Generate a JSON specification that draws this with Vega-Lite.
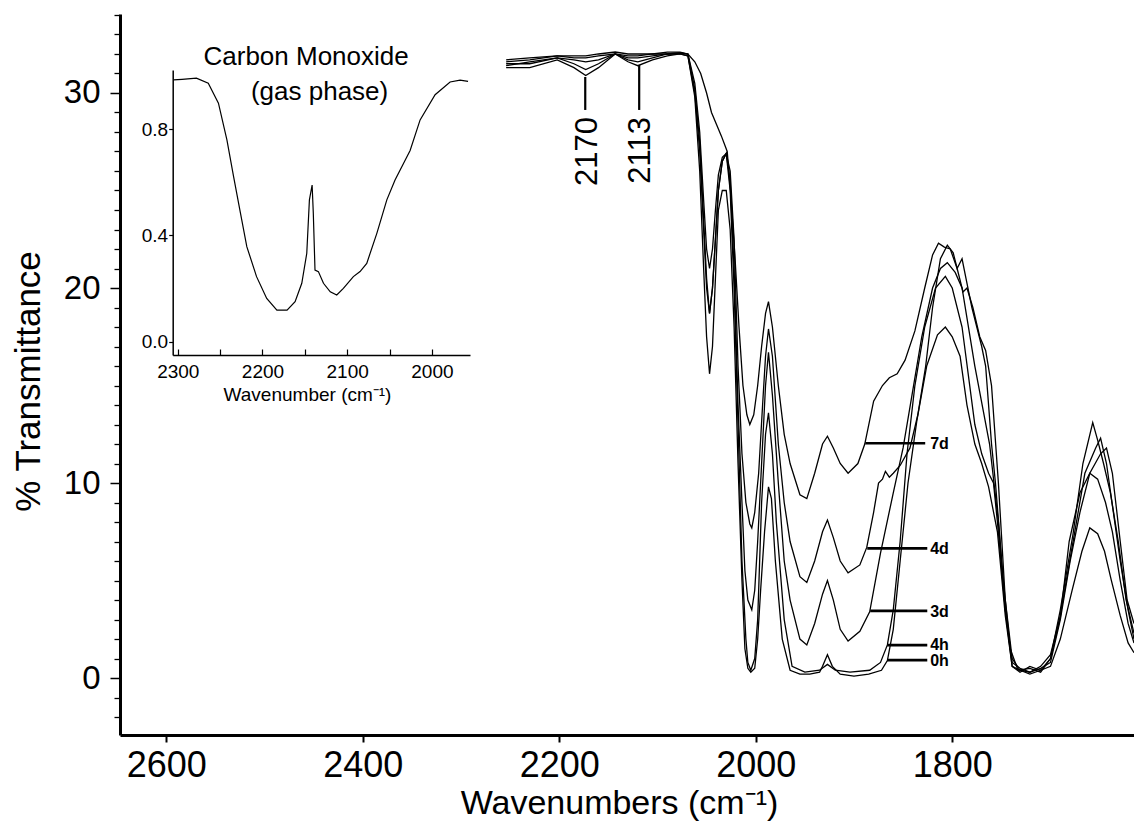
{
  "$schema": "https://vega.github.io/schema/vega-lite/v6.json",
  "width": 1014,
  "height": 721,
  "autosize": {"type": "none"},
  "padding": {"left": 120, "top": 14, "right": 0, "bottom": 87},
  "background": "white",
  "config": {
    "view": {"stroke": null},
    "font": "Liberation Sans",
    "axis": {"grid": false, "domainColor": "black", "tickColor": "black", "labelColor": "black", "titleColor": "black", "labelFont": "Liberation Sans", "titleFont": "Liberation Sans", "titleFontWeight": "normal"}
  },
  "datasets": {
    "spectra": [
      {"s":"0h","w":2254,"T":31.3},{"s":"0h","w":2230,"T":31.3},{"s":"0h","w":2202,"T":31.7},{"s":"0h","w":2185,"T":31.3},{"s":"0h","w":2173,"T":30.9},{"s":"0h","w":2160,"T":31.3},{"s":"0h","w":2143,"T":32.0},{"s":"0h","w":2130,"T":31.6},{"s":"0h","w":2120,"T":31.4},{"s":"0h","w":2105,"T":31.7},{"s":"0h","w":2090,"T":31.9},{"s":"0h","w":2077,"T":32.0},{"s":"0h","w":2069,"T":31.9},
      {"s":"0h","w":2062,"T":29.8},{"s":"0h","w":2057,"T":26},{"s":"0h","w":2053,"T":21},{"s":"0h","w":2050,"T":17.5},{"s":"0h","w":2047,"T":15.6},{"s":"0h","w":2044,"T":17},{"s":"0h","w":2041,"T":20.5},{"s":"0h","w":2038,"T":24},{"s":"0h","w":2034,"T":25},{"s":"0h","w":2030,"T":25},{"s":"0h","w":2026,"T":23},{"s":"0h","w":2022,"T":18},{"s":"0h","w":2018,"T":11},{"s":"0h","w":2014,"T":5},{"s":"0h","w":2011,"T":1.5},{"s":"0h","w":2008,"T":0.5},{"s":"0h","w":2005,"T":0.3},{"s":"0h","w":2001,"T":0.5},{"s":"0h","w":1998,"T":2},{"s":"0h","w":1995,"T":4.5},{"s":"0h","w":1991,"T":7.5},{"s":"0h","w":1987,"T":9.8},{"s":"0h","w":1984,"T":9.2},{"s":"0h","w":1980,"T":6},{"s":"0h","w":1973,"T":2},{"s":"0h","w":1965,"T":0.4},{"s":"0h","w":1955,"T":0.2},{"s":"0h","w":1945,"T":0.2},{"s":"0h","w":1935,"T":0.3},{"s":"0h","w":1932,"T":0.6},{"s":"0h","w":1927,"T":1.2},{"s":"0h","w":1922,"T":0.6},{"s":"0h","w":1914,"T":0.2},{"s":"0h","w":1900,"T":0.1},{"s":"0h","w":1885,"T":0.2},{"s":"0h","w":1872,"T":0.4},{"s":"0h","w":1866,"T":0.9},{"s":"0h","w":1860,"T":2.5},{"s":"0h","w":1853,"T":6},{"s":"0h","w":1845,"T":10},{"s":"0h","w":1836,"T":13.2},{"s":"0h","w":1826,"T":16},{"s":"0h","w":1815,"T":17.6},{"s":"0h","w":1807,"T":18},{"s":"0h","w":1800,"T":17.5},{"s":"0h","w":1792,"T":16.5},{"s":"0h","w":1785,"T":14},{"s":"0h","w":1777,"T":12},{"s":"0h","w":1770,"T":11},{"s":"0h","w":1763,"T":9.8},{"s":"0h","w":1754,"T":7.5},{"s":"0h","w":1746,"T":3.2},{"s":"0h","w":1739,"T":0.6},{"s":"0h","w":1731,"T":0.4},{"s":"0h","w":1721,"T":0.2},{"s":"0h","w":1710,"T":0.4},{"s":"0h","w":1700,"T":0.6},{"s":"0h","w":1690,"T":2},{"s":"0h","w":1678,"T":4.5},{"s":"0h","w":1668,"T":6.5},{"s":"0h","w":1660,"T":7.7},{"s":"0h","w":1652,"T":7.4},{"s":"0h","w":1645,"T":6.5},{"s":"0h","w":1638,"T":5},{"s":"0h","w":1629,"T":3.2},{"s":"0h","w":1621,"T":1.8},{"s":"0h","w":1615,"T":1.3},

      {"s":"4h","w":2254,"T":31.5},{"s":"4h","w":2230,"T":31.5},{"s":"4h","w":2202,"T":31.8},{"s":"4h","w":2185,"T":31.5},{"s":"4h","w":2173,"T":31.2},{"s":"4h","w":2160,"T":31.5},{"s":"4h","w":2143,"T":32.0},{"s":"4h","w":2130,"T":31.7},{"s":"4h","w":2120,"T":31.6},{"s":"4h","w":2105,"T":31.8},{"s":"4h","w":2090,"T":32.0},{"s":"4h","w":2077,"T":32.0},{"s":"4h","w":2069,"T":31.9},
      {"s":"4h","w":2062,"T":30},{"s":"4h","w":2057,"T":27},{"s":"4h","w":2053,"T":23},{"s":"4h","w":2050,"T":20},{"s":"4h","w":2047,"T":18.7},{"s":"4h","w":2044,"T":20},{"s":"4h","w":2041,"T":22.5},{"s":"4h","w":2038,"T":25},{"s":"4h","w":2034,"T":26.5},{"s":"4h","w":2030,"T":26.9},{"s":"4h","w":2026,"T":25},{"s":"4h","w":2022,"T":20},{"s":"4h","w":2018,"T":13},{"s":"4h","w":2014,"T":6},{"s":"4h","w":2010,"T":2},{"s":"4h","w":2008,"T":0.8},{"s":"4h","w":2005,"T":0.4},{"s":"4h","w":2001,"T":1},{"s":"4h","w":1998,"T":3},{"s":"4h","w":1994,"T":9},{"s":"4h","w":1990,"T":12.5},{"s":"4h","w":1987,"T":13.6},{"s":"4h","w":1983,"T":11.5},{"s":"4h","w":1979,"T":8},{"s":"4h","w":1971,"T":3},{"s":"4h","w":1963,"T":0.6},{"s":"4h","w":1950,"T":0.3},{"s":"4h","w":1935,"T":0.4},{"s":"4h","w":1927,"T":0.7},{"s":"4h","w":1919,"T":0.4},{"s":"4h","w":1904,"T":0.3},{"s":"4h","w":1884,"T":0.4},{"s":"4h","w":1873,"T":0.8},{"s":"4h","w":1866,"T":1.7},{"s":"4h","w":1860,"T":3.5},{"s":"4h","w":1853,"T":7},{"s":"4h","w":1846,"T":11.5},{"s":"4h","w":1838,"T":15},{"s":"4h","w":1828,"T":18},{"s":"4h","w":1817,"T":20},{"s":"4h","w":1807,"T":20.6},{"s":"4h","w":1800,"T":20},{"s":"4h","w":1790,"T":18},{"s":"4h","w":1777,"T":13},{"s":"4h","w":1770,"T":11.5},{"s":"4h","w":1763,"T":10.5},{"s":"4h","w":1758,"T":10},{"s":"4h","w":1754,"T":8},{"s":"4h","w":1746,"T":3.5},{"s":"4h","w":1739,"T":0.6},{"s":"4h","w":1731,"T":0.3},{"s":"4h","w":1721,"T":0.6},{"s":"4h","w":1710,"T":0.4},{"s":"4h","w":1700,"T":1},{"s":"4h","w":1690,"T":3.1},{"s":"4h","w":1681,"T":7},{"s":"4h","w":1670,"T":9.5},{"s":"4h","w":1660,"T":10.5},{"s":"4h","w":1652,"T":10.2},{"s":"4h","w":1644,"T":9},{"s":"4h","w":1637,"T":7.5},{"s":"4h","w":1629,"T":5},{"s":"4h","w":1621,"T":2.8},{"s":"4h","w":1615,"T":1.8},

      {"s":"3d","w":2254,"T":31.4},{"s":"3d","w":2230,"T":31.6},{"s":"3d","w":2202,"T":31.8},{"s":"3d","w":2185,"T":31.7},{"s":"3d","w":2173,"T":31.6},{"s":"3d","w":2160,"T":31.7},{"s":"3d","w":2143,"T":32.0},{"s":"3d","w":2130,"T":31.8},{"s":"3d","w":2120,"T":31.8},{"s":"3d","w":2105,"T":31.9},{"s":"3d","w":2090,"T":32.0},{"s":"3d","w":2077,"T":32.05},{"s":"3d","w":2069,"T":32.0},
      {"s":"3d","w":2062,"T":30.2},{"s":"3d","w":2057,"T":27.5},{"s":"3d","w":2053,"T":23.5},{"s":"3d","w":2050,"T":20.5},{"s":"3d","w":2047,"T":18.7},{"s":"3d","w":2044,"T":20},{"s":"3d","w":2041,"T":22.5},{"s":"3d","w":2038,"T":25},{"s":"3d","w":2034,"T":26.5},{"s":"3d","w":2030,"T":26.9},{"s":"3d","w":2026,"T":25.5},{"s":"3d","w":2022,"T":21},{"s":"3d","w":2018,"T":14},{"s":"3d","w":2014,"T":9},{"s":"3d","w":2011,"T":5.5},{"s":"3d","w":2008,"T":4},{"s":"3d","w":2004,"T":3.5},{"s":"3d","w":2001,"T":4.5},{"s":"3d","w":1998,"T":7},{"s":"3d","w":1993,"T":12},{"s":"3d","w":1990,"T":15},{"s":"3d","w":1987,"T":16.7},{"s":"3d","w":1983,"T":14.5},{"s":"3d","w":1977,"T":10},{"s":"3d","w":1971,"T":6},{"s":"3d","w":1965,"T":4},{"s":"3d","w":1955,"T":2},{"s":"3d","w":1948,"T":1.7},{"s":"3d","w":1940,"T":2.8},{"s":"3d","w":1932,"T":4.3},{"s":"3d","w":1927,"T":5},{"s":"3d","w":1921,"T":4},{"s":"3d","w":1914,"T":2.5},{"s":"3d","w":1906,"T":1.9},{"s":"3d","w":1894,"T":2.4},{"s":"3d","w":1884,"T":3.4},{"s":"3d","w":1873,"T":6.4},{"s":"3d","w":1860,"T":9.5},{"s":"3d","w":1850,"T":11.8},{"s":"3d","w":1841,"T":14.5},{"s":"3d","w":1831,"T":17.5},{"s":"3d","w":1820,"T":20},{"s":"3d","w":1812,"T":21},{"s":"3d","w":1805,"T":21.3},{"s":"3d","w":1797,"T":20.8},{"s":"3d","w":1790,"T":20},{"s":"3d","w":1777,"T":16},{"s":"3d","w":1762,"T":12},{"s":"3d","w":1753,"T":8},{"s":"3d","w":1746,"T":3.5},{"s":"3d","w":1739,"T":0.8},{"s":"3d","w":1731,"T":0.5},{"s":"3d","w":1721,"T":0.3},{"s":"3d","w":1710,"T":0.6},{"s":"3d","w":1700,"T":1.2},{"s":"3d","w":1690,"T":3.2},{"s":"3d","w":1677,"T":7},{"s":"3d","w":1665,"T":10.5},{"s":"3d","w":1654,"T":11.8},{"s":"3d","w":1649,"T":12.3},{"s":"3d","w":1643,"T":11},{"s":"3d","w":1636,"T":8.5},{"s":"3d","w":1629,"T":6},{"s":"3d","w":1621,"T":3.5},{"s":"3d","w":1615,"T":2},

      {"s":"4d","w":2254,"T":31.6},{"s":"4d","w":2230,"T":31.7},{"s":"4d","w":2202,"T":31.9},{"s":"4d","w":2185,"T":31.8},{"s":"4d","w":2173,"T":31.8},{"s":"4d","w":2160,"T":31.9},{"s":"4d","w":2143,"T":32.0},{"s":"4d","w":2130,"T":31.9},{"s":"4d","w":2120,"T":31.9},{"s":"4d","w":2105,"T":32.0},{"s":"4d","w":2090,"T":32.0},{"s":"4d","w":2077,"T":32.05},{"s":"4d","w":2069,"T":32.0},
      {"s":"4d","w":2062,"T":30.5},{"s":"4d","w":2057,"T":28},{"s":"4d","w":2053,"T":24.5},{"s":"4d","w":2050,"T":22},{"s":"4d","w":2047,"T":21},{"s":"4d","w":2044,"T":22},{"s":"4d","w":2041,"T":24},{"s":"4d","w":2038,"T":25.8},{"s":"4d","w":2034,"T":26.7},{"s":"4d","w":2030,"T":26.9},{"s":"4d","w":2026,"T":26},{"s":"4d","w":2022,"T":22.5},{"s":"4d","w":2018,"T":16},{"s":"4d","w":2014,"T":11.5},{"s":"4d","w":2010,"T":9},{"s":"4d","w":2006,"T":7.9},{"s":"4d","w":2004,"T":7.7},{"s":"4d","w":2001,"T":8.5},{"s":"4d","w":1997,"T":10.5},{"s":"4d","w":1993,"T":14},{"s":"4d","w":1990,"T":16.5},{"s":"4d","w":1987,"T":17.9},{"s":"4d","w":1983,"T":16.5},{"s":"4d","w":1977,"T":12},{"s":"4d","w":1971,"T":9},{"s":"4d","w":1965,"T":7},{"s":"4d","w":1955,"T":5.2},{"s":"4d","w":1948,"T":4.9},{"s":"4d","w":1940,"T":6},{"s":"4d","w":1932,"T":7.5},{"s":"4d","w":1927,"T":8.1},{"s":"4d","w":1921,"T":7.2},{"s":"4d","w":1914,"T":6},{"s":"4d","w":1906,"T":5.4},{"s":"4d","w":1894,"T":5.8},{"s":"4d","w":1887,"T":6.7},{"s":"4d","w":1880,"T":8.5},{"s":"4d","w":1875,"T":10},{"s":"4d","w":1871,"T":10.2},{"s":"4d","w":1868,"T":10.6},{"s":"4d","w":1864,"T":10.3},{"s":"4d","w":1860,"T":10.5},{"s":"4d","w":1853,"T":10.9},{"s":"4d","w":1843,"T":11.8},{"s":"4d","w":1835,"T":13.5},{"s":"4d","w":1827,"T":16},{"s":"4d","w":1820,"T":19},{"s":"4d","w":1812,"T":21.5},{"s":"4d","w":1805,"T":22.2},{"s":"4d","w":1799,"T":21.8},{"s":"4d","w":1795,"T":21},{"s":"4d","w":1790,"T":21.5},{"s":"4d","w":1786,"T":20.5},{"s":"4d","w":1780,"T":19},{"s":"4d","w":1770,"T":17},{"s":"4d","w":1766,"T":16},{"s":"4d","w":1760,"T":12},{"s":"4d","w":1756,"T":10},{"s":"4d","w":1748,"T":5},{"s":"4d","w":1741,"T":1.5},{"s":"4d","w":1733,"T":0.4},{"s":"4d","w":1721,"T":0.5},{"s":"4d","w":1710,"T":0.3},{"s":"4d","w":1700,"T":1},{"s":"4d","w":1690,"T":3.5},{"s":"4d","w":1677,"T":7.4},{"s":"4d","w":1667,"T":11},{"s":"4d","w":1657,"T":13.1},{"s":"4d","w":1652,"T":12.2},{"s":"4d","w":1646,"T":11},{"s":"4d","w":1639,"T":9.5},{"s":"4d","w":1631,"T":7},{"s":"4d","w":1623,"T":4},{"s":"4d","w":1615,"T":2.3},

      {"s":"7d","w":2254,"T":31.7},{"s":"7d","w":2230,"T":31.8},{"s":"7d","w":2202,"T":31.9},{"s":"7d","w":2185,"T":31.9},{"s":"7d","w":2173,"T":31.9},{"s":"7d","w":2160,"T":32.0},{"s":"7d","w":2143,"T":32.1},{"s":"7d","w":2130,"T":32.0},{"s":"7d","w":2120,"T":32.0},{"s":"7d","w":2105,"T":32.0},{"s":"7d","w":2090,"T":32.1},{"s":"7d","w":2077,"T":32.1},{"s":"7d","w":2069,"T":32.0},
      {"s":"7d","w":2062,"T":31.6},{"s":"7d","w":2056,"T":31},{"s":"7d","w":2050,"T":30},{"s":"7d","w":2045,"T":29},{"s":"7d","w":2040,"T":28.4},{"s":"7d","w":2035,"T":27.8},{"s":"7d","w":2029,"T":27},{"s":"7d","w":2025,"T":24.5},{"s":"7d","w":2021,"T":21.5},{"s":"7d","w":2017,"T":18},{"s":"7d","w":2013,"T":15},{"s":"7d","w":2009,"T":13.5},{"s":"7d","w":2006,"T":13},{"s":"7d","w":2002,"T":13.5},{"s":"7d","w":1998,"T":15},{"s":"7d","w":1994,"T":17},{"s":"7d","w":1990,"T":18.7},{"s":"7d","w":1987,"T":19.3},{"s":"7d","w":1983,"T":18},{"s":"7d","w":1977,"T":15},{"s":"7d","w":1971,"T":12.5},{"s":"7d","w":1965,"T":11},{"s":"7d","w":1955,"T":9.4},{"s":"7d","w":1948,"T":9.2},{"s":"7d","w":1940,"T":10.5},{"s":"7d","w":1932,"T":12},{"s":"7d","w":1927,"T":12.4},{"s":"7d","w":1921,"T":11.8},{"s":"7d","w":1914,"T":11},{"s":"7d","w":1906,"T":10.5},{"s":"7d","w":1896,"T":11},{"s":"7d","w":1889,"T":12},{"s":"7d","w":1880,"T":14.2},{"s":"7d","w":1871,"T":15},{"s":"7d","w":1864,"T":15.4},{"s":"7d","w":1856,"T":15.6},{"s":"7d","w":1848,"T":16.3},{"s":"7d","w":1838,"T":17.8},{"s":"7d","w":1828,"T":20},{"s":"7d","w":1820,"T":21.7},{"s":"7d","w":1814,"T":22.3},{"s":"7d","w":1808,"T":22.1},{"s":"7d","w":1802,"T":22},{"s":"7d","w":1795,"T":21},{"s":"7d","w":1789,"T":19.8},{"s":"7d","w":1785,"T":20},{"s":"7d","w":1779,"T":19},{"s":"7d","w":1772,"T":17.5},{"s":"7d","w":1766,"T":16.8},{"s":"7d","w":1760,"T":15},{"s":"7d","w":1753,"T":10},{"s":"7d","w":1746,"T":4},{"s":"7d","w":1739,"T":1},{"s":"7d","w":1731,"T":0.4},{"s":"7d","w":1721,"T":0.3},{"s":"7d","w":1710,"T":0.5},{"s":"7d","w":1700,"T":0.8},{"s":"7d","w":1690,"T":3},{"s":"7d","w":1680,"T":6},{"s":"7d","w":1670,"T":8.5},{"s":"7d","w":1660,"T":10.5},{"s":"7d","w":1649,"T":11.5},{"s":"7d","w":1643,"T":11.8},{"s":"7d","w":1637,"T":10.5},{"s":"7d","w":1629,"T":7},{"s":"7d","w":1622,"T":4},{"s":"7d","w":1615,"T":2.8}
    ],
    "hleaders": [
      {"x1":1888.5,"x2":1827.5,"y":12.04},
      {"x1":1886.5,"x2":1825.4,"y":6.65},
      {"x1":1883.5,"x2":1825.4,"y":3.44},
      {"x1":1866.2,"x2":1825.4,"y":1.69},
      {"x1":1866.2,"x2":1825.4,"y":0.92}
    ],
    "vleaders": [
      {"x":2173.5,"y1":30.82,"y2":29.13},
      {"x":2118.6,"y1":31.44,"y2":29.13}
    ],
    "labels": [
      {"text":"7d","w":1822.4,"T":12.0},
      {"text":"4d","w":1822.4,"T":6.6},
      {"text":"3d","w":1822.4,"T":3.4},
      {"text":"4h","w":1822.4,"T":1.72},
      {"text":"0h","w":1822.4,"T":0.85}
    ],
    "peaks": [
      {"text":"2170","w":2171,"T":28.77},
      {"text":"2113","w":2117,"T":28.77}
    ],
    "inset": [
      {"w":2305,"v":0.986},{"w":2295,"v":0.988},{"w":2278,"v":0.992},{"w":2264,"v":0.973},{"w":2252,"v":0.898},{"w":2242,"v":0.76},{"w":2234,"v":0.62},{"w":2226,"v":0.484},{"w":2218.5,"v":0.358},{"w":2207,"v":0.245},{"w":2195,"v":0.163},{"w":2183,"v":0.119},{"w":2171,"v":0.119},{"w":2161.5,"v":0.151},{"w":2153.6,"v":0.22},{"w":2147.7,"v":0.333},{"w":2144.6,"v":0.534},{"w":2141.4,"v":0.59},{"w":2140,"v":0.484},{"w":2138,"v":0.27},{"w":2134,"v":0.264},{"w":2128,"v":0.22},{"w":2120,"v":0.188},{"w":2112.3,"v":0.176},{"w":2104.5,"v":0.201},{"w":2092.7,"v":0.245},{"w":2084.8,"v":0.264},{"w":2076.9,"v":0.295},{"w":2065,"v":0.408},{"w":2053.2,"v":0.534},{"w":2043.5,"v":0.609},{"w":2025.7,"v":0.72},{"w":2013.9,"v":0.835},{"w":1996.2,"v":0.93},{"w":1978.5,"v":0.978},{"w":1966.7,"v":0.985},{"w":1957.3,"v":0.98}
    ],
    "insetTitle": [
      {"text":"Carbon Monoxide","w":2148.5,"v":1.042},
      {"text":"(gas phase)","w":2132.6,"v":0.910}
    ]
  },
  "layer": [
    {
      "layer": [
        {
          "data": {"name": "spectra"},
          "mark": {"type": "line", "color": "black", "strokeWidth": 1.3},
          "encoding": {
            "x": {"field": "w", "type": "quantitative",
              "scale": {"domain": [1615, 2647], "reverse": true, "nice": false, "zero": false},
              "axis": {"orient": "bottom", "values": [2600, 2400, 2200, 2000, 1800], "format": "d", "tickSize": 7, "tickWidth": 2, "domainWidth": 3, "labelFontSize": 36, "labelPadding": 6.6, "labelBaseline": "top",
                "title": "Wavenumbers (cm⁻¹)", "titleFontSize": 34, "titleBaseline": "alphabetic", "titleY": 78, "titleX": 499}},
            "y": {"field": "T", "type": "quantitative",
              "scale": {"domain": [-2.92, 34.05], "nice": false, "zero": false},
              "axis": {"orient": "left", "values": [0, 10, 20, 30], "format": "d", "tickSize": 10, "tickWidth": 1.5, "domainWidth": 3, "labelFontSize": 33, "labelPadding": 10,
                "title": "% Transmittance", "titleFontSize": 35, "titleBaseline": "alphabetic", "titleX": -81, "titleY": 367}},
            "detail": {"field": "s"}
          }
        },
        {
          "data": {"name": "hleaders"},
          "mark": {"type": "rule", "color": "black", "strokeWidth": 2.7},
          "encoding": {
            "x": {"field": "x1", "type": "quantitative", "scale": {"domain": [1615, 2647], "reverse": true, "nice": false, "zero": false}, "axis": null},
            "x2": {"field": "x2"},
            "y": {"field": "y", "type": "quantitative", "scale": {"domain": [-2.92, 34.05], "nice": false, "zero": false},
              "axis": {"orient": "left", "values": [-2,-1,1,2,3,4,5,6,7,8,9,11,12,13,14,15,16,17,18,19,21,22,23,24,25,26,27,28,29,31,32,33,34], "labels": false, "domain": false, "tickSize": 6, "tickWidth": 1.3, "title": null}}
          }
        },
        {
          "data": {"name": "vleaders"},
          "mark": {"type": "rule", "color": "black", "strokeWidth": 2.2},
          "encoding": {
            "x": {"field": "x", "type": "quantitative", "scale": {"domain": [1615, 2647], "reverse": true, "nice": false, "zero": false}, "axis": null},
            "y": {"field": "y1", "type": "quantitative", "scale": {"domain": [-2.92, 34.05], "nice": false, "zero": false}, "axis": null},
            "y2": {"field": "y2"}
          }
        },
        {
          "data": {"name": "labels"},
          "mark": {"type": "text", "color": "black", "fontSize": 16, "fontWeight": "bold", "align": "left", "baseline": "middle", "font": "Liberation Sans"},
          "encoding": {
            "x": {"field": "w", "type": "quantitative", "scale": {"domain": [1615, 2647], "reverse": true, "nice": false, "zero": false}, "axis": null},
            "y": {"field": "T", "type": "quantitative", "scale": {"domain": [-2.92, 34.05], "nice": false, "zero": false}, "axis": null},
            "text": {"field": "text"}
          }
        },
        {
          "data": {"name": "peaks"},
          "mark": {"type": "text", "color": "black", "fontSize": 31, "angle": 270, "align": "right", "baseline": "middle", "font": "Liberation Sans"},
          "encoding": {
            "x": {"field": "w", "type": "quantitative", "scale": {"domain": [1615, 2647], "reverse": true, "nice": false, "zero": false}, "axis": null},
            "y": {"field": "T", "type": "quantitative", "scale": {"domain": [-2.92, 34.05], "nice": false, "zero": false}, "axis": null},
            "text": {"field": "text"}
          }
        }
      ],
      "resolve": {"axis": {"x": "independent", "y": "independent"}}
    },
    {
      "layer": [
        {
          "data": {"name": "inset"},
          "mark": {"type": "line", "color": "black", "strokeWidth": 1.2},
          "encoding": {
            "x": {"field": "w", "type": "quantitative",
              "scale": {"domain": [1955, 2306], "reverse": true, "nice": false, "zero": false, "range": [52.7, 350]},
              "axis": {"orient": "bottom", "offset": -380, "values": [2300, 2200, 2100, 2000], "format": "d", "ticks": false,
                "domainWidth": 1.5, "labelFontSize": 19, "labelPadding": 7, "labelBaseline": "top",
                "title": "Wavenumber (cm⁻¹)", "titleFontSize": 19, "titleBaseline": "alphabetic", "titleX": 187, "titleY": 45}},
            "y": {"field": "v", "type": "quantitative",
              "scale": {"domain": [-0.05, 1.023], "nice": false, "zero": false, "range": [341, 56]},
              "axis": {"orient": "left", "offset": -52.7, "values": [0, 0.4, 0.8], "format": ".1f", "tickSize": 4, "tickWidth": 1.2, "domainWidth": 1.5, "labelFontSize": 19, "labelPadding": 1, "title": null}}
          }
        },
        {
          "data": {"name": "insetTitle"},
          "mark": {"type": "text", "color": "black", "fontSize": 26, "align": "center", "baseline": "alphabetic", "font": "Liberation Sans"},
          "encoding": {
            "x": {"field": "w", "type": "quantitative", "scale": {"domain": [1955, 2306], "reverse": true, "nice": false, "zero": false, "range": [52.7, 350]},
              "axis": {"orient": "top", "offset": -341, "values": [2300, 2250, 2200, 2150, 2100, 2050, 2000], "labels": false, "domain": false, "tickSize": 6, "tickWidth": 1.2, "title": null}},
            "y": {"field": "v", "type": "quantitative", "scale": {"domain": [-0.05, 1.023], "nice": false, "zero": false, "range": [341, 56]}, "axis": null},
            "text": {"field": "text"}
          }
        }
      ],
      "resolve": {"axis": {"x": "independent", "y": "independent"}}
    }
  ],
  "resolve": {"scale": {"x": "independent", "y": "independent"}, "axis": {"x": "independent", "y": "independent"}}
}
